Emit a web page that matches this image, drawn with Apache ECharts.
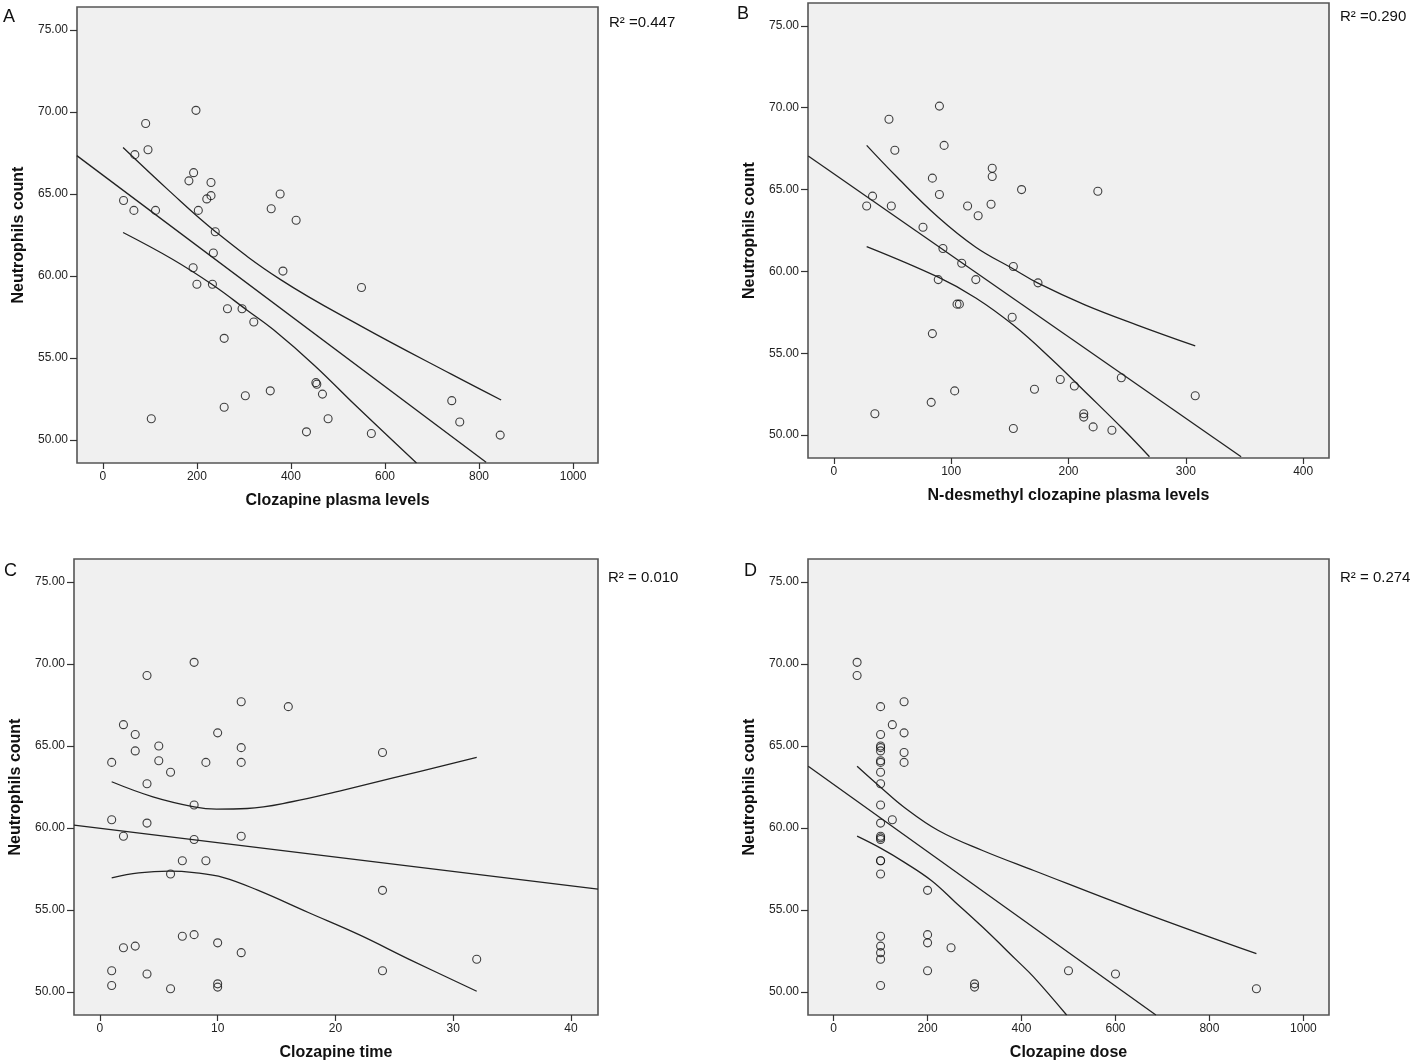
<!DOCTYPE html>
<html><head><meta charset="utf-8">
<script src="https://cdn.jsdelivr.net/npm/echarts@6/dist/echarts.min.js"></script>
<style>html,body{margin:0;padding:0;background:#fff}#c{width:1420px;height:1063px}</style>
</head><body><div id="c"></div>
<script>
// ---- shared
const yTicks = [50, 55, 60, 65, 70, 75];
const yTitle = 'Neutrophils count';

// ---- Panel A: Clozapine plasma levels
const aTitle = 'Clozapine plasma levels';
const aR2 = 'R\u00b2 =0.447';
const aTicks = [0, 200, 400, 600, 800, 1000];
const aX = [44,66,68,91,96,112,103,183,193,198,192,200,203,221,230,230,239,235,233,265,296,321,258,258,303,356,358,377,383,411,453,455,467,479,433,550,571,742,759,845];
const aY = [64.6,64.0,67.4,69.3,67.7,64.0,51.3,65.8,66.3,70.1,60.5,59.5,64.0,64.7,65.7,64.9,62.7,61.4,59.5,58.0,58.0,57.2,56.2,52.0,52.7,53.0,64.1,65.0,60.3,63.4,53.5,53.4,52.8,51.3,50.5,59.3,50.4,52.4,51.1,50.3];
const aFitX = [-55.4, 815];
const aFitY = [67.34, 48.64];
const aUpX = [43, 140, 239, 378, 550, 742, 847];
const aUpY = [67.83, 65.22, 62.72, 59.78, 56.93, 54.00, 52.44];
const aLoX = [43, 148, 234, 306, 363, 450, 536, 667];
const aLoY = [62.65, 61.02, 59.45, 57.93, 56.72, 54.55, 52.15, 48.60];

// ---- Panel B: N-desmethyl clozapine plasma levels
const bTitle = 'N-desmethyl clozapine plasma levels';
const bR2 = 'R\u00b2 =0.290';
const bTicks = [0, 100, 200, 300, 400];
const bX = [90,47,52,94,135,135,84,160,225,33,90,28,49,114,134,123,76,93,109,153,89,121,174,105,107,152,84,35,83,103,171,193,205,245,213,213,221,237,153,308];
const bY = [70.1,69.3,67.4,67.7,66.3,65.8,65.7,65.0,64.9,64.6,64.7,64.0,64.0,64.0,64.1,63.4,62.7,61.4,60.5,60.3,59.5,59.5,59.3,58.0,58.0,57.2,56.2,51.3,52.0,52.7,52.8,53.4,53.0,53.5,51.3,51.1,50.5,50.3,50.4,52.4];
const bFitX = [-21.8, 347.1];
const bFitY = [67.05, 48.68];
const bUpX = [28, 54, 89, 121, 153, 174, 214, 258, 308];
const bUpY = [67.70, 65.75, 63.31, 61.48, 60.15, 59.28, 57.96, 56.74, 55.45];
const bLoX = [28, 89, 121, 153, 185, 217, 246, 269];
const bLoY = [61.52, 59.65, 58.38, 56.72, 54.68, 52.45, 50.40, 48.68];

// ---- Panel C: Clozapine time
const cTitle = 'Clozapine time';
const cR2 = 'R\u00b2 = 0.010';
const cTicks = [0, 10, 20, 30, 40];
const cX = [8,4,12,16,2,3,10,5,12,3,24,1,5,9,12,6,4,8,1,4,2,8,12,7,9,6,24,7,8,2,3,10,12,32,1,4,24,1,6,10,10];
const cY = [70.1,69.3,67.7,67.4,66.3,65.7,65.8,65.0,64.9,64.7,64.6,64.0,64.1,64.0,64.0,63.4,62.7,61.4,60.5,60.3,59.5,59.3,59.5,58.0,58.0,57.2,56.2,53.4,53.5,52.7,52.8,53.0,52.4,52.0,51.3,51.1,51.3,50.4,50.2,50.5,50.3];
const cFitX = [-2.2, 42.3];
const cFitY = [60.17, 56.27];
const cUpX = [1, 4.5, 8, 9.9, 12.5, 16.3, 20.6, 24.9, 32];
const cUpY = [62.82, 61.90, 61.29, 61.15, 61.19, 61.60, 62.30, 63.05, 64.30];
const cLoX = [1, 3.3, 5.9, 8, 10.5, 13.4, 17.7, 22, 26.4, 32];
const cLoY = [56.96, 57.26, 57.37, 57.28, 56.98, 56.21, 54.85, 53.50, 51.95, 50.05];

// ---- Panel D: Clozapine dose
const dTitle = 'Clozapine dose';
const dR2 = 'R\u00b2 = 0.274';
const dTicks = [0, 200, 400, 600, 800, 1000];
const dX = [50,50,100,150,125,100,150,100,100,100,150,100,100,150,100,100,100,125,100,100,100,100,100,100,100,200,100,200,200,100,250,100,100,200,500,600,100,300,300,900];
const dY = [70.1,69.3,67.4,67.7,66.3,65.7,65.8,65.0,64.9,64.7,64.6,64.1,64.0,64.0,63.4,62.7,61.4,60.5,60.3,59.5,59.4,59.3,58.0,58.0,57.2,56.2,53.4,53.5,53.0,52.8,52.7,52.4,52.0,51.3,51.3,51.1,50.4,50.5,50.3,50.2];
const dFitX = [-54, 686];
const dFitY = [63.77, 48.6];
const dUpX = [50, 100, 150, 223, 317, 426, 644, 900];
const dUpY = [63.77, 62.49, 61.27, 59.85, 58.63, 57.41, 55.00, 52.34];
const dLoX = [50, 100, 150, 208, 259, 317, 390, 426, 496];
const dLoY = [59.50, 58.77, 57.92, 56.80, 55.48, 53.96, 51.93, 50.91, 48.6];

// ---- layout (styles/positions only)
const panels = [
  {grid:{left:77, top:7, width:521, height:456}, xr:[-55,1053], ticks:aTicks, title:aTitle,
   X:aX, Y:aY, fx:aFitX, fy:aFitY, ux:aUpX, uy:aUpY, lx:aLoX, ly:aLoY},
  {grid:{left:808, top:3, width:521, height:455}, xr:[-22,422], ticks:bTicks, title:bTitle,
   X:bX, Y:bY, fx:bFitX, fy:bFitY, ux:bUpX, uy:bUpY, lx:bLoX, ly:bLoY},
  {grid:{left:74, top:559, width:524, height:456}, xr:[-2.2,42.3], ticks:cTicks, title:cTitle,
   X:cX, Y:cY, fx:cFitX, fy:cFitY, ux:cUpX, uy:cUpY, lx:cLoX, ly:cLoY},
  {grid:{left:808, top:559, width:521, height:456}, xr:[-54.5,1054.5], ticks:dTicks, title:dTitle,
   X:dX, Y:dY, fx:dFitX, fy:dFitY, ux:dUpX, uy:dUpY, lx:dLoX, ly:dLoY}
];
const zip = (xs, ys) => xs.map((x, i) => [x, ys[i]]);
const FONT = "'Liberation Sans', Arial, sans-serif";

const grids = [], xAxes = [], yAxes = [], series = [];
panels.forEach((p, i) => {
  grids.push(Object.assign({show:true, backgroundColor:'#f0f0f0', borderColor:'#555', borderWidth:1.6, containLabel:false}, p.grid));
  xAxes.push({type:'value', gridIndex:i, min:p.xr[0], max:p.xr[1], position:'bottom',
    axisLine:{show:false, onZero:false}, splitLine:{show:false},
    axisTick:{show:true, length:6, inside:false, customValues:p.ticks, lineStyle:{color:'#333', width:1.2}},
    axisLabel:{customValues:p.ticks, color:'#222', fontSize:12, fontFamily:FONT, margin:8,
      formatter: v => String(v)},
    name:p.title, nameLocation:'middle', nameGap:30,
    nameTextStyle:{fontSize:16, fontWeight:'bold', color:'#111', fontFamily:FONT}});
  yAxes.push({type:'value', gridIndex:i, min:48.6, max:76.4, position:'left',
    axisLine:{show:false, onZero:false}, splitLine:{show:false},
    axisTick:{show:true, length:7, customValues:yTicks, lineStyle:{color:'#333', width:1.2}},
    axisLabel:{customValues:yTicks, color:'#222', fontSize:12, fontFamily:FONT, margin:9,
      formatter: v => Number(v).toFixed(2)},
    name:yTitle, nameLocation:'middle', nameGap:50,
    nameTextStyle:{fontSize:16, fontWeight:'bold', color:'#111', fontFamily:FONT}});
  series.push({type:'scatter', xAxisIndex:i, yAxisIndex:i, data:zip(p.X, p.Y),
    symbol:'circle', symbolSize:8,
    itemStyle:{color:'rgba(0,0,0,0)', borderColor:'#111', borderWidth:1.1}, silent:true});
  const ls = {color:'#222', width:1.3};
  series.push({type:'line', xAxisIndex:i, yAxisIndex:i, data:zip(p.fx, p.fy), symbol:'none', clip:true, lineStyle:ls, silent:true});
  series.push({type:'line', xAxisIndex:i, yAxisIndex:i, data:zip(p.ux, p.uy), symbol:'none', smooth:0.4, clip:true, lineStyle:ls, silent:true});
  series.push({type:'line', xAxisIndex:i, yAxisIndex:i, data:zip(p.lx, p.ly), symbol:'none', smooth:0.4, clip:true, lineStyle:ls, silent:true});
});

const txt = (x, y, s, size) => ({type:'text', left:x, top:y,
  style:{text:s, fontSize:size, fontFamily:FONT, fill:'#111'}});
const graphic = [
  txt(3, 8, 'A', 18), txt(737, 5, 'B', 18), txt(4, 562, 'C', 18), txt(744, 562, 'D', 18),
  txt(609, 15, aR2, 15), txt(1340, 9, bR2, 15), txt(608, 570, cR2, 15), txt(1340, 570, dR2, 15)
];

const chart = echarts.init(document.getElementById('c'), null, {renderer:'canvas'});
chart.setOption({animation:false, backgroundColor:'#fff', grid:grids, xAxis:xAxes, yAxis:yAxes, series, graphic});
</script></body></html>
